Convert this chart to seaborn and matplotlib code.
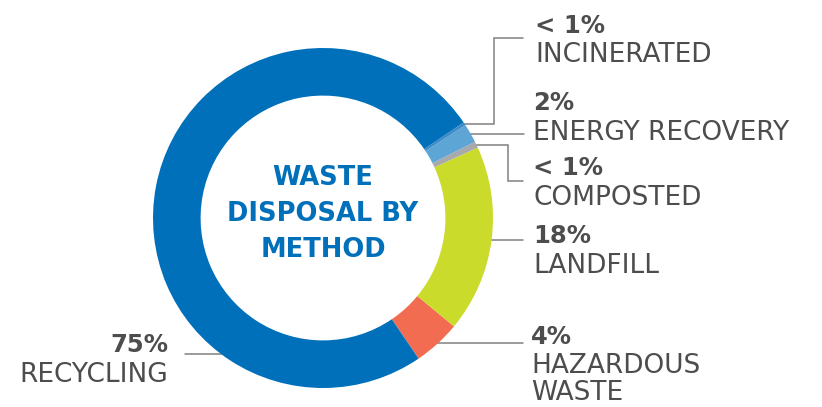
import numpy as np
import matplotlib.pyplot as plt
import seaborn as sns

# disposal shares, counter-clockwise starting from hazardous waste
methods = ["HAZARDOUS\nWASTE", "LANDFILL", "COMPOSTED", "ENERGY RECOVERY", "INCINERATED", "RECYCLING"]
shares = [4.5, 17.8, 0.6, 1.8, 0.3, 75.0]
pct_labels = ["4%", "18%", "< 1%", "2%", "< 1%", "75%"]
hex_colors = ["#F26C52", "#CADB2B", "#A7A9AC", "#5DA5D5", "#3D8BC9", "#0070BA"]
center_title = ["WASTE", "DISPOSAL BY", "METHOD"]

W, H = 822, 407
CX, CY, R = 323, 218, 170   # pixel coords, y down
RING = 0.28
TEXT = "#4D4D4F"
LINE = "#808080"

# label layout (pixels, y down): text x, pct baseline, name baseline, elbow points, ha
layout = {
    "HAZARDOUS\nWASTE": dict(x=531, pb=344, nb=373, elbow=[], end=523, ha="left"),
    "LANDFILL": dict(x=533, pb=243, nb=273, elbow=[], end=523, ha="left"),
    "COMPOSTED": dict(x=533, pb=175, nb=205, elbow=[508, 181], end=523, ha="left"),
    "ENERGY RECOVERY": dict(x=533, pb=110, nb=140, elbow=[], end=524, ha="left"),
    "INCINERATED": dict(x=535, pb=33, nb=62, elbow=[494, 38], end=523, ha="left"),
    "RECYCLING": dict(x=168, pb=352, nb=382, elbow=[], end=185, ha="right", line_y=354),
}


def py(y):
    return H - y


sns.set_style("white")
plt.rcParams["font.family"] = ["DejaVu Sans"]

fig = plt.figure(figsize=(W / 100, H / 100), dpi=100)
ax = fig.add_axes([0, 0, 1, 1])

palette = sns.color_palette(hex_colors)
wedges, _ = ax.pie(shares, colors=palette, startangle=-55.8, counterclock=True,
                   center=(CX, py(CY)), radius=R,
                   wedgeprops=dict(width=R * RING, linewidth=0))

for w, name, pct in zip(wedges, methods, pct_labels):
    lay = layout[name]
    if "line_y" in lay:
        dy = lay["line_y"] - CY
        ax0 = CX - np.sqrt(R ** 2 - dy ** 2) + 1
        ay0 = lay["line_y"]
    else:
        mid = np.deg2rad((w.theta1 + w.theta2) / 2)
        ax0 = CX + (R - 1) * np.cos(mid)
        ay0 = CY - (R - 1) * np.sin(mid)
    xs, ys = [ax0], [ay0]
    if lay["elbow"]:
        ex, ey = lay["elbow"]
        xs += [ex, ex]
        ys += [ay0, ey]
        ys.append(ey)
    else:
        ys.append(ay0)
    xs.append(lay["end"])
    ax.plot(xs, [py(v) for v in ys], color=LINE, lw=1.1, solid_joinstyle="miter", zorder=0)

    ax.text(lay["x"], py(lay["pb"]), pct, ha=lay["ha"], va="baseline",
            fontsize=17.5, fontweight="bold", color=TEXT)
    for i, part in enumerate(name.split("\n")):
        ax.text(lay["x"], py(lay["nb"] + i * 27), part, ha=lay["ha"], va="baseline",
                fontsize=19, color=TEXT)

for i, line in enumerate(center_title):
    ax.text(CX, py(185 + i * 36), line, ha="center", va="baseline",
            fontsize=18.5, fontweight="bold", color="#0070BA")

ax.set_xlim(0, W)
ax.set_ylim(0, H)
ax.set_aspect("equal")
ax.axis("off")

fig.savefig("out.png", dpi=100, facecolor="white")
